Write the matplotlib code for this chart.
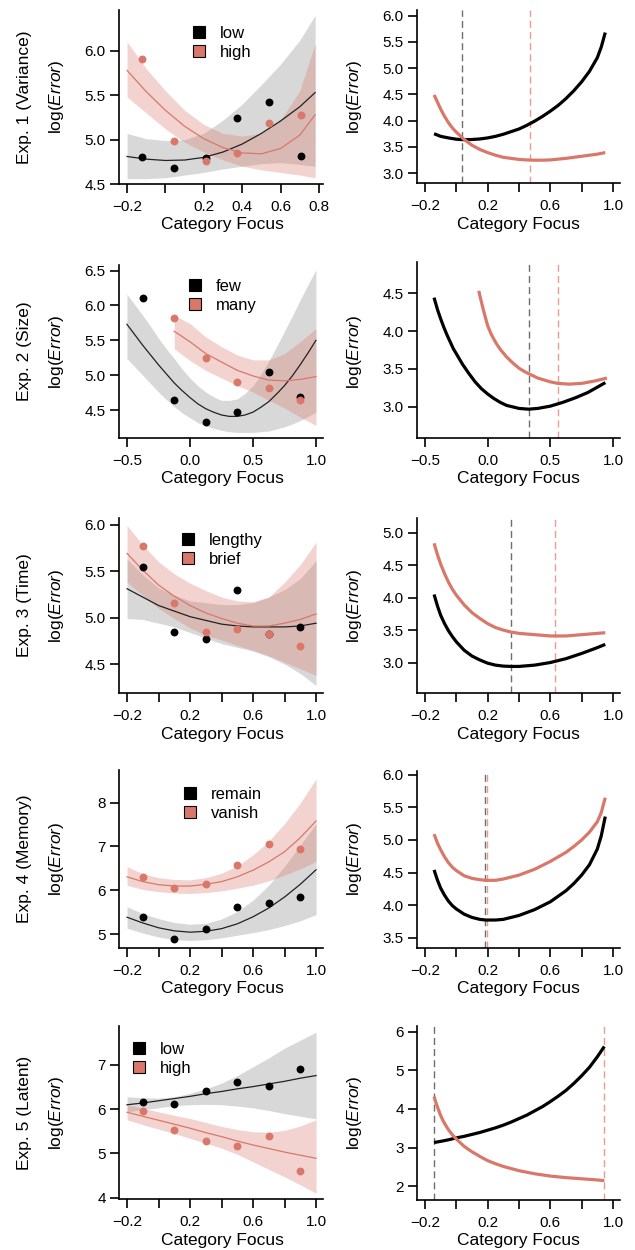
import numpy as np
import matplotlib
matplotlib.use("Agg")
from matplotlib import pyplot as plt
from matplotlib.lines import Line2D

plt.rcParams['font.family'] = ['Liberation Sans', 'DejaVu Sans']
plt.rcParams['mathtext.fontset'] = 'custom'
plt.rcParams['mathtext.rm'] = 'Liberation Sans'
plt.rcParams['mathtext.it'] = 'Liberation Sans:italic'

BLACK = '#000000'
SALMON = '#D9786A'
SALMON_DASH = '#E99C90'
GRAY_DASH = '#6E6E6E'

# ---- Exp. 1 (Variance) ----
e1_x = [-0.12, 0.045, 0.21, 0.375, 0.54, 0.705]
e1_a = [4.80, 4.68, 4.79, 5.24, 5.42, 4.81]
e1_b = [5.91, 4.98, 4.76, 4.85, 5.19, 5.28]
e1_fx = [-0.2, -0.1, 0.0, 0.1, 0.2, 0.3, 0.4, 0.5, 0.6, 0.7, 0.78]
e1_a_fit = [4.81, 4.78, 4.765, 4.77, 4.80, 4.86, 4.95, 5.07, 5.21, 5.37, 5.53]
e1_a_lo = [4.56, 4.56, 4.57, 4.60, 4.63, 4.67, 4.70, 4.73, 4.74, 4.72, 4.70]
e1_a_hi = [5.07, 5.01, 4.99, 5.00, 5.07, 5.22, 5.40, 5.62, 5.85, 6.12, 6.40]
e1_b_fit = [5.78, 5.54, 5.33, 5.15, 5.01, 4.91, 4.85, 4.84, 4.90, 5.05, 5.28]
e1_b_lo = [5.48, 5.30, 5.12, 4.97, 4.86, 4.77, 4.70, 4.66, 4.63, 4.60, 4.57]
e1_b_hi = [6.10, 5.80, 5.55, 5.33, 5.17, 5.07, 5.04, 5.07, 5.22, 5.55, 6.08]
e1_a_cx = [-0.142, -0.1, -0.05, 0.0, 0.05, 0.1, 0.15, 0.2, 0.25, 0.3, 0.35, 0.4,
           0.45, 0.5, 0.55, 0.6, 0.65, 0.7, 0.75, 0.8, 0.85, 0.9, 0.925, 0.951]
e1_a_curve = [3.75, 3.70, 3.67, 3.645, 3.635, 3.64, 3.65, 3.67, 3.70, 3.74, 3.79, 3.84,
              3.91, 3.99, 4.08, 4.18, 4.29, 4.42, 4.57, 4.74, 4.94, 5.20, 5.40, 5.68]
e1_b_cx = [-0.142, -0.12, -0.1, -0.075, -0.05, -0.025, 0.0, 0.05, 0.1, 0.15, 0.2, 0.25,
           0.3, 0.35, 0.4, 0.45, 0.5, 0.55, 0.6, 0.7, 0.8, 0.9, 0.951]
e1_b_curve = [4.49, 4.35, 4.22, 4.08, 3.96, 3.86, 3.78, 3.64, 3.53, 3.45, 3.39, 3.34,
              3.30, 3.28, 3.26, 3.25, 3.245, 3.245, 3.25, 3.28, 3.32, 3.36, 3.39]
e1_opt = [0.039, 0.471]

# ---- Exp. 2 (Size) ----
e2_a_x = [-0.375, -0.125, 0.125, 0.375, 0.625, 0.875]
e2_a = [6.11, 4.65, 4.33, 4.47, 5.04, 4.69]
e2_b_x = [-0.125, 0.125, 0.375, 0.625, 0.875]
e2_b = [5.82, 5.24, 4.90, 4.81, 4.65]
e2_a_fx = [-0.5, -0.4375, -0.375, -0.3125, -0.25, -0.1875, -0.125, -0.0625, 0.0,
           0.0625, 0.125, 0.1875, 0.25, 0.3125, 0.375, 0.4375, 0.5, 0.5625, 0.625,
           0.6875, 0.75, 0.8125, 0.875, 0.9375, 1.0]
e2_a_fit = [5.73, 5.58, 5.43, 5.29, 5.15, 5.02, 4.89, 4.78, 4.68, 4.59, 4.52, 4.47, 4.43,
            4.41, 4.41, 4.43, 4.47, 4.54, 4.62, 4.73, 4.85, 4.99, 5.15, 5.32, 5.50]
e2_a_lo = [5.24, 5.12, 5.00, 4.88, 4.76, 4.65, 4.55, 4.46, 4.39, 4.32, 4.27, 4.24, 4.21,
           4.19, 4.18, 4.18, 4.18, 4.19, 4.20, 4.23, 4.26, 4.30, 4.35, 4.41, 4.47]
e2_a_hi = [6.16, 6.01, 5.86, 5.70, 5.53, 5.38, 5.24, 5.09, 4.96, 4.85, 4.76, 4.69, 4.64,
           4.64, 4.66, 4.74, 4.85, 5.01, 5.20, 5.41, 5.63, 5.85, 6.08, 6.30, 6.51]
e2_b_fx = [-0.125, 0.0, 0.125, 0.25, 0.375, 0.5, 0.625, 0.75, 0.875, 1.0]
e2_b_fit = [5.63, 5.48, 5.31, 5.19, 5.07, 4.99, 4.93, 4.92, 4.94, 4.98]
e2_b_lo = [5.38, 5.21, 5.07, 4.96, 4.85, 4.76, 4.64, 4.53, 4.40, 4.28]
e2_b_hi = [5.86, 5.74, 5.55, 5.41, 5.29, 5.22, 5.22, 5.31, 5.48, 5.67]
e2_a_cx = [-0.428, -0.4, -0.375, -0.35, -0.325, -0.3, -0.275, -0.25, -0.2, -0.15, -0.1,
           -0.05, 0.0, 0.05, 0.1, 0.15, 0.2, 0.25, 0.326, 0.4, 0.5, 0.6, 0.7, 0.8, 0.939]
e2_a_curve = [4.44, 4.28, 4.16, 4.05, 3.95, 3.86, 3.77, 3.70, 3.56, 3.44, 3.33,
              3.24, 3.17, 3.11, 3.06, 3.02, 3.00, 2.98, 2.97, 2.98, 3.01, 3.06, 3.12, 3.19, 3.32]
e2_b_cx = [-0.071, -0.06, -0.045, -0.03, -0.015, 0.0, 0.025, 0.05, 0.075, 0.1, 0.15, 0.2,
           0.25, 0.3, 0.4, 0.5, 0.56, 0.65, 0.75, 0.85, 0.952]
e2_b_curve = [4.53, 4.45, 4.35, 4.25, 4.16, 4.07, 3.97, 3.89, 3.82, 3.76, 3.66, 3.58,
              3.51, 3.46, 3.38, 3.33, 3.31, 3.30, 3.31, 3.34, 3.38]
e2_opt = [0.326, 0.56]

# ---- Exp. 3 (Time) ----
e3_x = [-0.1, 0.1, 0.3, 0.5, 0.7, 0.9]
e3_a = [5.54, 4.85, 4.77, 5.30, 4.82, 4.90]
e3_b = [5.77, 5.16, 4.85, 4.88, 4.82, 4.69]
e3_fx = [-0.2, -0.1, 0.0, 0.1, 0.2, 0.3, 0.4, 0.5, 0.6, 0.7, 0.8, 0.9, 1.0]
e3_a_fit = [5.31, 5.22, 5.13, 5.07, 5.01, 4.97, 4.93, 4.91, 4.90, 4.90, 4.90, 4.91, 4.94]
e3_a_lo = [4.99, 4.98, 4.94, 4.90, 4.84, 4.78, 4.72, 4.68, 4.64, 4.58, 4.50, 4.40, 4.27]
e3_a_hi = [5.63, 5.46, 5.32, 5.24, 5.18, 5.16, 5.14, 5.14, 5.16, 5.22, 5.30, 5.42, 5.61]
e3_b_fit = [5.69, 5.51, 5.35, 5.23, 5.13, 5.05, 4.99, 4.94, 4.91, 4.91, 4.94, 4.98, 5.04]
e3_b_lo = [5.38, 5.24, 5.10, 4.99, 4.89, 4.81, 4.76, 4.70, 4.65, 4.59, 4.52, 4.45, 4.38]
e3_b_hi = [5.99, 5.78, 5.60, 5.47, 5.37, 5.29, 5.22, 5.18, 5.17, 5.22, 5.38, 5.57, 5.81]
e3_a_cx = [-0.142, -0.12, -0.1, -0.075, -0.05, -0.025, 0.0, 0.05, 0.1, 0.15, 0.2, 0.25,
           0.3, 0.35, 0.4, 0.5, 0.6, 0.7, 0.8, 0.9, 0.951]
e3_a_curve = [4.05, 3.87, 3.73, 3.60, 3.49, 3.40, 3.32, 3.19, 3.10, 3.04, 2.99, 2.96,
              2.945, 2.94, 2.94, 2.96, 3.00, 3.06, 3.14, 3.23, 3.28]
e3_b_cx = e3_a_cx
e3_b_curve = [4.84, 4.66, 4.52, 4.37, 4.24, 4.13, 4.04, 3.89, 3.77, 3.68, 3.60, 3.54,
              3.50, 3.47, 3.45, 3.43, 3.41, 3.41, 3.43, 3.45, 3.46]
e3_opt = [0.35, 0.631]

# ---- Exp. 4 (Memory) ----
e4_x = [-0.1, 0.1, 0.3, 0.5, 0.7, 0.9]
e4_a = [5.39, 4.89, 5.12, 5.62, 5.71, 5.84]
e4_b = [6.30, 6.05, 6.15, 6.58, 7.05, 6.94]
e4_fx = e3_fx
e4_a_fit = [5.39, 5.26, 5.15, 5.08, 5.05, 5.07, 5.13, 5.24, 5.40, 5.60, 5.85, 6.14, 6.47]
e4_a_lo = [5.14, 5.03, 4.94, 4.88, 4.86, 4.88, 4.92, 4.98, 5.04, 5.11, 5.20, 5.31, 5.45]
e4_a_hi = [5.63, 5.47, 5.36, 5.27, 5.23, 5.25, 5.35, 5.52, 5.78, 6.12, 6.55, 7.03, 7.52]
e4_b_fit = [6.31, 6.20, 6.13, 6.10, 6.10, 6.14, 6.20, 6.31, 6.46, 6.65, 6.88, 7.20, 7.58]
e4_b_lo = [6.12, 6.02, 5.97, 5.94, 5.93, 5.95, 5.99, 6.05, 6.12, 6.22, 6.35, 6.49, 6.66]
e4_b_hi = [6.54, 6.38, 6.29, 6.25, 6.24, 6.29, 6.39, 6.56, 6.81, 7.12, 7.52, 7.99, 8.54]
e4_a_cx = [-0.142, -0.12, -0.1, -0.075, -0.05, -0.025, 0.0, 0.05, 0.1, 0.15, 0.188, 0.25,
           0.3, 0.4, 0.5, 0.6, 0.7, 0.75, 0.8, 0.85, 0.9, 0.925, 0.951]
e4_a_curve = [4.54, 4.38, 4.26, 4.15, 4.06, 3.99, 3.94, 3.86, 3.81, 3.78, 3.77, 3.77,
              3.78, 3.84, 3.93, 4.05, 4.22, 4.33, 4.46, 4.62, 4.86, 5.06, 5.36]
e4_b_cx = e4_a_cx
e4_b_curve = [5.09, 4.95, 4.85, 4.74, 4.65, 4.58, 4.53, 4.45, 4.41, 4.39, 4.38, 4.38,
              4.40, 4.46, 4.55, 4.67, 4.81, 4.90, 5.00, 5.12, 5.28, 5.42, 5.65]
e4_opt = [0.186, 0.196]

# ---- Exp. 5 (Latent) ----
e5_x = [-0.1, 0.1, 0.3, 0.5, 0.7, 0.9]
e5_a = [6.16, 6.12, 6.41, 6.61, 6.53, 6.90]
e5_b = [5.96, 5.54, 5.27, 5.17, 5.39, 4.60]
e5_fx = e3_fx
e5_a_fit = [6.10, 6.14, 6.19, 6.24, 6.29, 6.35, 6.40, 6.46, 6.51, 6.57, 6.63, 6.70, 6.76]
e5_a_lo = [5.94, 5.99, 6.03, 6.08, 6.10, 6.11, 6.10, 6.07, 6.03, 5.97, 5.90, 5.84, 5.78]
e5_a_hi = [6.28, 6.26, 6.25, 6.28, 6.36, 6.46, 6.59, 6.76, 6.96, 7.16, 7.38, 7.56, 7.74]
e5_b_fit = [5.93, 5.84, 5.75, 5.66, 5.57, 5.47, 5.38, 5.28, 5.19, 5.11, 5.03, 4.96, 4.89]
e5_b_lo = [5.76, 5.65, 5.55, 5.45, 5.34, 5.23, 5.12, 4.98, 4.81, 4.64, 4.47, 4.29, 4.10]
e5_b_hi = [6.10, 6.02, 5.94, 5.86, 5.79, 5.70, 5.61, 5.54, 5.49, 5.48, 5.52, 5.62, 5.76]
e5_a_cx = [-0.142, -0.1, -0.05, 0.0, 0.05, 0.1, 0.15, 0.2, 0.25, 0.3, 0.35, 0.4, 0.45,
           0.5, 0.55, 0.6, 0.65, 0.7, 0.75, 0.8, 0.85, 0.9, 0.945]
e5_a_curve = [3.13, 3.16, 3.20, 3.25, 3.29, 3.34, 3.39, 3.45, 3.51, 3.58, 3.66, 3.75, 3.84,
              3.95, 4.06, 4.19, 4.33, 4.48, 4.66, 4.86, 5.08, 5.35, 5.62]
e5_b_cx = [-0.142, -0.13, -0.115, -0.1, -0.085, -0.07, -0.05, -0.025, 0.0, 0.05, 0.1, 0.15,
           0.2, 0.25, 0.3, 0.4, 0.5, 0.6, 0.7, 0.8, 0.9, 0.945]
e5_b_curve = [4.32, 4.16, 3.99, 3.83, 3.70, 3.59, 3.46, 3.33, 3.22, 3.03, 2.89, 2.77,
              2.66, 2.58, 2.51, 2.40, 2.32, 2.26, 2.22, 2.19, 2.16, 2.14]
e5_opt = [-0.142, 0.945]

row_titles = ['Exp. 1 (Variance)', 'Exp. 2 (Size)', 'Exp. 3 (Time)',
              'Exp. 4 (Memory)', 'Exp. 5 (Latent)']
legend_labels = [('low', 'high'), ('few', 'many'), ('lengthy', 'brief'),
                 ('remain', 'vanish'), ('low', 'high')]

W, H = 635, 1250
fig = plt.figure(figsize=(W / 100, H / 100), dpi=100)


def add_ax(l, t, r, b):
    return fig.add_axes([l / W, 1 - b / H, (r - l) / W, (b - t) / H])


def style(ax, xlim, ylim, xticks, xlabels, yticks, ylabels):
    for s in ('top', 'right'):
        ax.spines[s].set_visible(False)
    for s in ('left', 'bottom'):
        ax.spines[s].set_linewidth(1.2)
    ax.set_xlim(*xlim)
    ax.set_ylim(*ylim)
    ax.set_xticks(xticks)
    ax.set_xticklabels(xlabels)
    ax.set_yticks(yticks)
    ax.set_yticklabels(ylabels)
    ax.tick_params(axis='both', direction='out', length=6.5, width=1.2,
                   labelsize=11, color='black')
    ax.tick_params(axis='x', pad=5)
    ax.tick_params(axis='y', pad=3)


def fmt(v, nd):
    s = f'{v:.{nd}f}'
    return s.replace('-', '\u2212')


def left_panel(ax, pts, fits):
    (xa, ya), (xb, yb) = pts
    (fxa, fa, loa, hia), (fxb, fb, lob, hib) = fits
    ax.fill_between(fxa, loa, hia, color='gray', alpha=0.3, lw=0)
    ax.fill_between(fxb, lob, hib, color=SALMON, alpha=0.32, lw=0)
    ax.plot(fxa, fa, color='#222222', lw=0.9)
    ax.plot(fxb, fb, color=SALMON, lw=0.9)
    ax.scatter(xa, ya, s=32, color=BLACK, lw=0, zorder=3)
    ax.scatter(xb, yb, s=32, color=SALMON, lw=0, zorder=3)


def right_panel(ax, ca, cb, opt):
    ax.axvline(opt[0], color=GRAY_DASH, lw=1.0, ls=(0, (5, 3)))
    ax.axvline(opt[1], color=SALMON_DASH, lw=1.0, ls=(0, (5, 3)))
    ax.plot(ca[0], ca[1], color=BLACK, lw=2.3, solid_capstyle='butt',
            solid_joinstyle='round')
    ax.plot(cb[0], cb[1], color=SALMON, lw=2.3, solid_capstyle='butt',
            solid_joinstyle='round')


def add_legend(ax, labels, mx, my):
    handles = [Line2D([], [], ls='', marker='s', ms=8, mfc=BLACK, mec=BLACK, mew=0.8),
               Line2D([], [], ls='', marker='s', ms=8, mfc=SALMON, mec=BLACK, mew=0.8)]
    ax.legend(handles, labels, loc='upper left', frameon=False, fontsize=12,
              handlelength=1.0, handletextpad=0.75, borderpad=0, borderaxespad=0,
              labelspacing=0.22,
              bbox_to_anchor=((mx - 8) / W, 1 - (my - 5) / H),
              bbox_transform=fig.transFigure)


def labels(row_center, lx, rx, bottom):
    fig.text(24.5 / W, 1 - row_center / H, row_titles[r], rotation=90,
             ha='center', va='center', fontsize=12.5)
    for xc in (56.5, 355):
        fig.text(xc / W, 1 - row_center / H, 'log($\\mathit{Error}$)',
                 rotation=90, ha='center', va='center', fontsize=12.5)
    for xc in (lx, rx):
        fig.text(xc / W, 1 - (bottom + 41) / H, 'Category Focus',
                 ha='center', va='center', fontsize=12.5)


tk02 = [-0.2, 0.0, 0.2, 0.4, 0.6, 0.8, 1.0]
tk02_lab = ['\u22120.2', '', '0.2', '', '0.6', '', '1.0']
tk05 = [-0.5, 0.0, 0.5, 1.0]
tk05_lab = ['\u22120.5', '0.0', '0.5', '1.0']

# left / right axes boxes in pixels: (l, t, r, b)
boxes = [((119, 10, 323, 184), (417, 10, 620, 183)),
         ((119, 265, 323, 438), (417, 262, 620, 438)),
         ((119, 518, 323, 693), (417, 518, 620, 693)),
         ((119, 770, 323, 948), (417, 771, 620, 948)),
         ((119, 1026, 323, 1199), (417, 1026, 620, 1200))]

legend_pos = [(199, 31), (195, 284), (188, 538), (190, 792), (139, 1047)]

panels = [
    dict(pts=((e1_x, e1_a), (e1_x, e1_b)),
         fits=((e1_fx, e1_a_fit, e1_a_lo, e1_a_hi), (e1_fx, e1_b_fit, e1_b_lo, e1_b_hi)),
         curves=((e1_a_cx, e1_a_curve), (e1_b_cx, e1_b_curve)), opt=e1_opt,
         lxlim=(-0.242, 0.821), lxt=[-0.2, 0.0, 0.2, 0.4, 0.6, 0.8],
         lxl=['\u22120.2', '', '0.2', '0.4', '0.6', '0.8'],
         lylim=(4.5, 6.46), lyt=[4.5, 5.0, 5.5, 6.0], lnd=1,
         rxlim=(-0.251, 1.045), rxt=tk02, rxl=tk02_lab,
         rylim=(2.81, 6.11), ryt=[3.0, 3.5, 4.0, 4.5, 5.0, 5.5, 6.0], rnd=1),
    dict(pts=((e2_a_x, e2_a), (e2_b_x, e2_b)),
         fits=((e2_a_fx, e2_a_fit, e2_a_lo, e2_a_hi), (e2_b_fx, e2_b_fit, e2_b_lo, e2_b_hi)),
         curves=((e2_a_cx, e2_a_curve), (e2_b_cx, e2_b_curve)), opt=e2_opt,
         lxlim=(-0.563, 1.056), lxt=tk05, lxl=tk05_lab,
         lylim=(4.10, 6.58), lyt=[4.5, 5.0, 5.5, 6.0, 6.5], lnd=1,
         rxlim=(-0.564, 1.056), rxt=tk05, rxl=tk05_lab,
         rylim=(2.59, 4.91), ryt=[3.0, 3.5, 4.0, 4.5], rnd=1),
    dict(pts=((e3_x, e3_a), (e3_x, e3_b)),
         fits=((e3_fx, e3_a_fit, e3_a_lo, e3_a_hi), (e3_fx, e3_b_fit, e3_b_lo, e3_b_hi)),
         curves=((e3_a_cx, e3_a_curve), (e3_b_cx, e3_b_curve)), opt=e3_opt,
         lxlim=(-0.251, 1.044), lxt=tk02, lxl=tk02_lab,
         lylim=(4.19, 6.07), lyt=[4.5, 5.0, 5.5, 6.0], lnd=1,
         rxlim=(-0.251, 1.045), rxt=tk02, rxl=tk02_lab,
         rylim=(2.53, 5.23), ryt=[3.0, 3.5, 4.0, 4.5, 5.0], rnd=1),
    dict(pts=((e4_x, e4_a), (e4_x, e4_b)),
         fits=((e4_fx, e4_a_fit, e4_a_lo, e4_a_hi), (e4_fx, e4_b_fit, e4_b_lo, e4_b_hi)),
         curves=((e4_a_cx, e4_a_curve), (e4_b_cx, e4_b_curve)), opt=e4_opt,
         lxlim=(-0.251, 1.044), lxt=tk02, lxl=tk02_lab,
         lylim=(4.69, 8.74), lyt=[5, 6, 7, 8], lnd=0,
         rxlim=(-0.251, 1.045), rxt=tk02, rxl=tk02_lab,
         rylim=(3.34, 6.06), ryt=[3.5, 4.0, 4.5, 5.0, 5.5, 6.0], rnd=1),
    dict(pts=((e5_x, e5_a), (e5_x, e5_b)),
         fits=((e5_fx, e5_a_fit, e5_a_lo, e5_a_hi), (e5_fx, e5_b_fit, e5_b_lo, e5_b_hi)),
         curves=((e5_a_cx, e5_a_curve), (e5_b_cx, e5_b_curve)), opt=e5_opt,
         lxlim=(-0.251, 1.044), lxt=tk02, lxl=tk02_lab,
         lylim=(3.97, 7.88), lyt=[4, 5, 6, 7], lnd=0,
         rxlim=(-0.251, 1.045), rxt=tk02, rxl=tk02_lab,
         rylim=(1.64, 6.15), ryt=[2, 3, 4, 5, 6], rnd=0),
]

for r, p in enumerate(panels):
    lb, rb = boxes[r]
    axl = add_ax(*lb)
    left_panel(axl, p['pts'], p['fits'])
    style(axl, p['lxlim'], p['lylim'], p['lxt'], p['lxl'],
          p['lyt'], [fmt(v, p['lnd']) for v in p['lyt']])
    add_legend(axl, legend_labels[r], *legend_pos[r])

    axr = add_ax(*rb)
    right_panel(axr, p['curves'][0], p['curves'][1], p['opt'])
    style(axr, p['rxlim'], p['rylim'], p['rxt'], p['rxl'],
          p['ryt'], [fmt(v, p['rnd']) for v in p['ryt']])

    labels((lb[1] + lb[3]) / 2, 222, 518, lb[3])

fig.savefig('out.png', dpi=100)
